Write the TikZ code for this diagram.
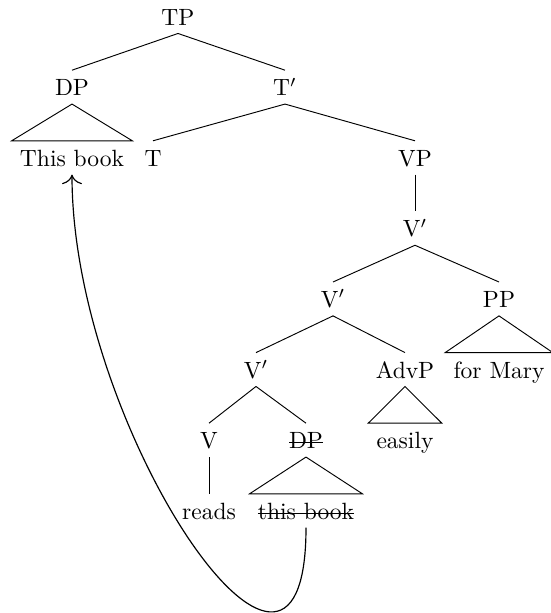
\documentclass[tikz,border=0pt]{standalone}
\usetikzlibrary{arrows.meta}
% struck-through text: a rule across the word at about 0.55ex
\newlength\stkw
\newcommand\strk[1]{\settowidth{\stkw}{#1}\rlap{\rule[0.55ex]{\stkw}{0.4pt}}#1}
\begin{document}
\begin{tikzpicture}[
    x={(0.4251pt,0)}, y={(0,-0.4251pt)},
    lbl/.style={anchor=base, inner xsep=3.33pt, inner ysep=0pt,
                text height=10.6pt, text depth=3.4pt},
    branch/.style={line width=0.4pt},
    move/.style={line width=0.5pt, -{Computer Modern Rightarrow[scale=1.5]}},
  ]
  \useasboundingbox (0,0) rectangle (551,613);

  % row baselines (25 + 70.6 k)
  \def\rA{25}    \def\rB{95.6}  \def\rC{166.2} \def\rD{236.8}
  \def\rE{307.4} \def\rF{378}   \def\rG{448.6} \def\rH{519.2}

  % labels
  \node[lbl] (TP)   at (178,\rA) {TP};
  \node[lbl] (DP)   at (72,\rB)  {DP};
  \node[lbl] (Tbar) at (285,\rB) {T$'$};
  \node[lbl] (TB)   at (72,\rC)  {This book};
  \node[lbl] (T)    at (153,\rC) {T};
  \node[lbl] (VP)   at (415,\rC) {VP};
  \node[lbl] (Va)   at (415,\rD) {V$'$};
  \node[lbl] (Vb)   at (333,\rE) {V$'$};
  \node[lbl] (PP)   at (499,\rE) {PP};
  \node[lbl] (Vc)   at (256,\rF) {V$'$};
  \node[lbl] (AdvP) at (405,\rF) {AdvP};
  \node[lbl] (FM)   at (499,\rF) {for Mary};
  \node[lbl] (V)    at (209,\rG) {V};
  \node[lbl] (DPt)  at (306,\rG) {\strk{DP}};
  \node[lbl] (ES)   at (405,\rG) {easily};
  \node[lbl] (RD)   at (209,\rH) {reads};
  \node[lbl] (tb)   at (306,\rH) {\strk{this book}};

  % branches
  \draw[branch] (TP.south) -- (DP.north);
  \draw[branch] (TP.south) -- (Tbar.north);
  \draw[branch] (Tbar.south) -- (T.north);
  \draw[branch] (Tbar.south) -- (VP.north);
  \draw[branch] (VP.south) -- (Va.north);
  \draw[branch] (Va.south) -- (Vb.north);
  \draw[branch] (Va.south) -- (PP.north);
  \draw[branch] (Vb.south) -- (Vc.north);
  \draw[branch] (Vb.south) -- (AdvP.north);
  \draw[branch] (Vc.south) -- (V.north);
  \draw[branch] (Vc.south) -- (DPt.north);
  \draw[branch] (V.south) -- (RD.north);

  % roofs
  \draw[branch] (DP.south) -- (TB.north west) -- (TB.north east) -- cycle;
  \draw[branch] (PP.south) -- (FM.north west) -- (FM.north east) -- cycle;
  \draw[branch] (AdvP.south) -- (ES.north west) -- (ES.north east) -- cycle;
  \draw[branch] (DPt.south) -- (tb.north west) -- (tb.north east) -- cycle;

  % movement arrow
  \draw[move] (tb.south) .. controls +(0,245) and +(0,256) .. (TB.south);
\end{tikzpicture}
\end{document}
